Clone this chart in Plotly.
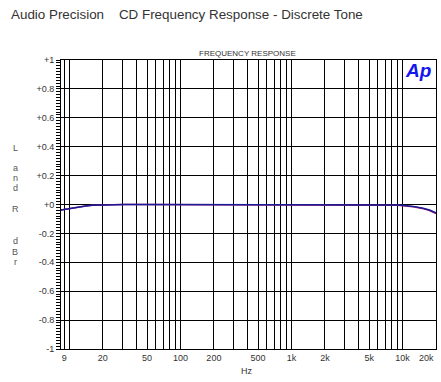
import plotly.graph_objects as go

# ---- data ----
freq_hz = [8.4, 9, 10, 12, 14, 16, 20, 25, 31.5, 40, 50, 63, 80, 100, 200, 500,
           1000, 2000, 3000, 4000, 5000, 6300, 8000, 9000, 10000, 12500, 15000,
           17500, 20000]
left_dbr = [-0.038, -0.034, -0.027, -0.018, -0.011, -0.006, -0.003, -0.001, 0.0, 0.0,
            0.0, 0.0, 0.0, 0.0, 0.0, 0.0, 0.0, 0.0, 0.0, -0.001, -0.002, -0.002,
            -0.003, -0.004, -0.006, -0.013, -0.024, -0.038, -0.058]
right_dbr = [-0.038, -0.034, -0.027, -0.018, -0.011, -0.006, -0.003, -0.001, 0.0, 0.0,
             0.0, 0.0, 0.0, 0.0, 0.0, 0.0, 0.0, 0.0, 0.0, -0.004, -0.004, -0.004,
             -0.005, -0.006, -0.008, -0.016, -0.027, -0.042, -0.062]

grid_freqs = [9, 10, 20, 30, 40, 50, 60, 70, 80, 90, 100, 200, 300, 400, 500, 600,
              700, 800, 900, 1000, 2000, 3000, 4000, 5000, 6000, 7000, 8000, 9000, 10000]
x_labels = {9: "9", 20: "20", 50: "50", 100: "100", 200: "200", 500: "500",
            1000: "1k", 2000: "2k", 5000: "5k", 10000: "10k"}
y_ticks = [1, 0.8, 0.6, 0.4, 0.2, 0, -0.2, -0.4, -0.6, -0.8, -1]
y_labels = ["+1", "+0.8", "+0.6", "+0.4", "+0.2", "+0", "-0.2", "-0.4", "-0.6", "-0.8", "-1"]

# ---- figure ----
fig = go.Figure()
fig.add_trace(go.Scatter(x=freq_hz, y=right_dbr, mode="lines",
                         line=dict(color="#a0185a", width=1.5), name="R"))
fig.add_trace(go.Scatter(x=freq_hz, y=left_dbr, mode="lines",
                         line=dict(color="#1a1a9a", width=1.5), name="L"))

L, R, T, B = 61, 5, 60, 33
W, H = 441, 382
pw, ph = W - L - R, H - T - B

def px(xp):
    return (xp - L) / pw

def py(yp):
    return (H - B - yp) / ph

txt = "#333333"
fig.update_layout(
    width=W, height=H,
    margin=dict(l=L, r=R, t=T, b=B, pad=0),
    plot_bgcolor="white", paper_bgcolor="white",
    showlegend=False,
    font=dict(family="Arial, Liberation Sans, sans-serif", size=9, color=txt),
    title=dict(text="Audio Precision&nbsp;&nbsp;&nbsp;&nbsp;CD Frequency Response - Discrete Tone",
               xref="container", yref="container", x=11 / W, xanchor="left",
               y=1 - 14 / H, yanchor="middle",
               font=dict(size=13.4, color=txt, family="Arial, Liberation Sans, sans-serif")),
    xaxis=dict(type="log", range=[0.9243, 4.30103],
               tickvals=grid_freqs,
               ticktext=[x_labels.get(f, "") for f in grid_freqs],
               showgrid=True, gridcolor="black", gridwidth=1,
               ticks="", showline=True, linecolor="black", linewidth=1, mirror=True,
               zeroline=False, tickfont=dict(size=9, color=txt)),
    yaxis=dict(range=[-1, 1], tickvals=y_ticks, ticktext=y_labels,
               showgrid=True, gridcolor="black", gridwidth=1,
               ticks="outside", ticklen=4, tickcolor="black",
               minor=dict(dtick=0.02, ticks="outside", ticklen=4, tickcolor="black",
                          showgrid=False),
               showline=True, linecolor="black", linewidth=1, mirror=True,
               zeroline=False, tickfont=dict(size=9, color=txt)),
)

ann = [
    dict(text="FREQUENCY RESPONSE", x=px(247), y=py(54), font=dict(size=8, color=txt)),
    dict(text="Hz", x=px(247), y=py(371), font=dict(size=9, color=txt)),
    dict(text="20k", x=1.0, xanchor="right", y=py(358), font=dict(size=9, color=txt)),
    dict(text="<b><i>Ap</i></b>", x=px(418), y=py(70),
         font=dict(size=19, color="#1515ee", family="Arial, Liberation Sans, sans-serif")),
]
for ch, yp in [("L", 147.7), ("a", 168), ("n", 178), ("d", 187.7), ("R", 209),
               ("d", 241), ("B", 252), ("r", 262)]:
    ann.append(dict(text=ch, x=px(15), y=py(yp), font=dict(size=9, color="#555555")))
for a in ann:
    a.setdefault("xanchor", "center")
    a.update(xref="paper", yref="paper", yanchor="middle", showarrow=False)
    fig.add_annotation(**a)

fig.write_html("out.html", config={"displayModeBar": False},
               post_script="document.body.style.margin='0';document.body.style.overflow='hidden';")
